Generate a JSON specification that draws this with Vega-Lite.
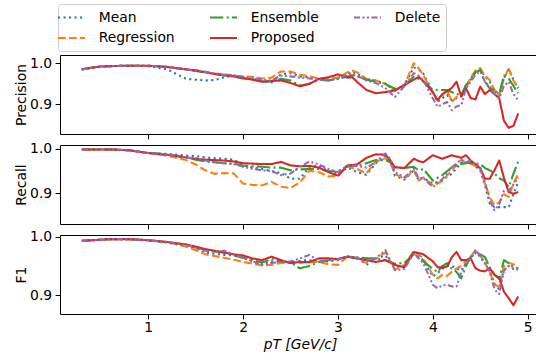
{
  "$schema": "https://vega.github.io/schema/vega-lite/v6.json",
  "padding": {"left": 13, "top": 3, "right": 0, "bottom": 0},
  "datasets": {
    "precision": [
      {"x":0.3,"Mean":0.985,"Regression":0.985,"Ensemble":0.985,"Proposed":0.985,"Delete":0.985},
      {"x":0.4,"Mean":0.989,"Regression":0.989,"Ensemble":0.989,"Proposed":0.989,"Delete":0.989},
      {"x":0.5,"Mean":0.992,"Regression":0.992,"Ensemble":0.992,"Proposed":0.992,"Delete":0.992},
      {"x":0.6,"Mean":0.993,"Regression":0.993,"Ensemble":0.993,"Proposed":0.993,"Delete":0.993},
      {"x":0.8,"Mean":0.994,"Regression":0.994,"Ensemble":0.994,"Proposed":0.994,"Delete":0.994},
      {"x":1.0,"Mean":0.993,"Regression":0.994,"Ensemble":0.994,"Proposed":0.994,"Delete":0.994},
      {"x":1.2,"Mean":0.985,"Regression":0.991,"Ensemble":0.991,"Proposed":0.991,"Delete":0.991},
      {"x":1.4,"Mean":0.962,"Regression":0.985,"Ensemble":0.985,"Proposed":0.985,"Delete":0.985},
      {"x":1.5,"Mean":0.960,"Regression":0.982,"Ensemble":0.981,"Proposed":0.983,"Delete":0.982},
      {"x":1.6,"Mean":0.958,"Regression":0.979,"Ensemble":0.978,"Proposed":0.978,"Delete":0.979},
      {"x":1.7,"Mean":0.959,"Regression":0.975,"Ensemble":0.974,"Proposed":0.974,"Delete":0.975},
      {"x":1.8,"Mean":0.966,"Regression":0.973,"Ensemble":0.970,"Proposed":0.971,"Delete":0.972},
      {"x":1.9,"Mean":0.970,"Regression":0.970,"Ensemble":0.968,"Proposed":0.968,"Delete":0.970},
      {"x":2.0,"Mean":0.964,"Regression":0.968,"Ensemble":0.963,"Proposed":0.964,"Delete":0.967},
      {"x":2.1,"Mean":0.962,"Regression":0.967,"Ensemble":0.962,"Proposed":0.960,"Delete":0.964},
      {"x":2.2,"Mean":0.958,"Regression":0.963,"Ensemble":0.956,"Proposed":0.955,"Delete":0.960},
      {"x":2.3,"Mean":0.953,"Regression":0.965,"Ensemble":0.955,"Proposed":0.957,"Delete":0.958},
      {"x":2.4,"Mean":0.973,"Regression":0.980,"Ensemble":0.962,"Proposed":0.958,"Delete":0.970},
      {"x":2.5,"Mean":0.976,"Regression":0.980,"Ensemble":0.958,"Proposed":0.952,"Delete":0.968},
      {"x":2.6,"Mean":0.968,"Regression":0.972,"Ensemble":0.946,"Proposed":0.944,"Delete":0.965},
      {"x":2.7,"Mean":0.966,"Regression":0.968,"Ensemble":0.950,"Proposed":0.950,"Delete":0.963},
      {"x":2.8,"Mean":0.962,"Regression":0.963,"Ensemble":0.960,"Proposed":0.962,"Delete":0.960},
      {"x":2.9,"Mean":0.960,"Regression":0.962,"Ensemble":0.958,"Proposed":0.966,"Delete":0.958},
      {"x":3.0,"Mean":0.964,"Regression":0.965,"Ensemble":0.962,"Proposed":0.973,"Delete":0.962},
      {"x":3.1,"Mean":0.976,"Regression":0.978,"Ensemble":0.968,"Proposed":0.965,"Delete":0.972},
      {"x":3.15,"Mean":0.979,"Regression":0.982,"Ensemble":0.971,"Proposed":0.966,"Delete":0.975},
      {"x":3.2,"Mean":0.975,"Regression":0.978,"Ensemble":0.968,"Proposed":0.955,"Delete":0.970},
      {"x":3.3,"Mean":0.962,"Regression":0.962,"Ensemble":0.960,"Proposed":0.935,"Delete":0.958},
      {"x":3.4,"Mean":0.958,"Regression":0.958,"Ensemble":0.955,"Proposed":0.927,"Delete":0.952},
      {"x":3.5,"Mean":0.950,"Regression":0.950,"Ensemble":0.950,"Proposed":0.930,"Delete":0.940},
      {"x":3.6,"Mean":0.933,"Regression":0.933,"Ensemble":0.938,"Proposed":0.934,"Delete":0.918},
      {"x":3.7,"Mean":0.948,"Regression":0.947,"Ensemble":0.946,"Proposed":0.947,"Delete":0.944},
      {"x":3.8,"Mean":0.990,"Regression":1.000,"Ensemble":0.967,"Proposed":0.960,"Delete":0.976},
      {"x":3.85,"Mean":0.985,"Regression":0.988,"Ensemble":0.962,"Proposed":0.967,"Delete":0.970},
      {"x":3.9,"Mean":0.975,"Regression":0.971,"Ensemble":0.955,"Proposed":0.957,"Delete":0.959},
      {"x":4.0,"Mean":0.930,"Regression":0.928,"Ensemble":0.935,"Proposed":0.930,"Delete":0.915},
      {"x":4.05,"Mean":0.906,"Regression":0.910,"Ensemble":0.935,"Proposed":0.910,"Delete":0.894},
      {"x":4.1,"Mean":0.915,"Regression":0.922,"Ensemble":0.935,"Proposed":0.925,"Delete":0.900},
      {"x":4.15,"Mean":0.923,"Regression":0.935,"Ensemble":0.935,"Proposed":0.932,"Delete":0.906},
      {"x":4.2,"Mean":0.910,"Regression":0.906,"Ensemble":0.930,"Proposed":0.940,"Delete":0.886},
      {"x":4.25,"Mean":0.915,"Regression":0.918,"Ensemble":0.925,"Proposed":0.955,"Delete":0.895},
      {"x":4.3,"Mean":0.919,"Regression":0.923,"Ensemble":0.923,"Proposed":0.919,"Delete":0.898},
      {"x":4.35,"Mean":0.947,"Regression":0.939,"Ensemble":0.947,"Proposed":0.939,"Delete":0.939},
      {"x":4.4,"Mean":0.962,"Regression":0.965,"Ensemble":0.960,"Proposed":0.915,"Delete":0.955},
      {"x":4.45,"Mean":0.978,"Regression":0.983,"Ensemble":0.978,"Proposed":0.912,"Delete":0.972},
      {"x":4.5,"Mean":0.984,"Regression":0.988,"Ensemble":0.984,"Proposed":0.943,"Delete":0.980},
      {"x":4.55,"Mean":0.968,"Regression":0.970,"Ensemble":0.955,"Proposed":0.925,"Delete":0.955},
      {"x":4.6,"Mean":0.955,"Regression":0.959,"Ensemble":0.939,"Proposed":0.935,"Delete":0.943},
      {"x":4.65,"Mean":0.935,"Regression":0.935,"Ensemble":0.935,"Proposed":0.925,"Delete":0.925},
      {"x":4.7,"Mean":0.920,"Regression":0.919,"Ensemble":0.925,"Proposed":0.915,"Delete":0.915},
      {"x":4.75,"Mean":0.965,"Regression":0.963,"Ensemble":0.970,"Proposed":0.860,"Delete":0.945},
      {"x":4.8,"Mean":0.985,"Regression":0.988,"Ensemble":0.963,"Proposed":0.843,"Delete":0.955},
      {"x":4.85,"Mean":0.960,"Regression":0.958,"Ensemble":0.945,"Proposed":0.848,"Delete":0.925},
      {"x":4.9,"Mean":0.939,"Regression":0.939,"Ensemble":0.927,"Proposed":0.878,"Delete":0.910}
    ],
    "recall": [
      {"x":0.3,"Mean":0.999,"Regression":0.999,"Ensemble":0.999,"Proposed":0.999,"Delete":0.999},
      {"x":0.4,"Mean":0.999,"Regression":0.999,"Ensemble":0.999,"Proposed":0.999,"Delete":0.999},
      {"x":0.5,"Mean":0.999,"Regression":0.999,"Ensemble":0.999,"Proposed":0.999,"Delete":0.999},
      {"x":0.6,"Mean":0.999,"Regression":0.999,"Ensemble":0.999,"Proposed":0.999,"Delete":0.999},
      {"x":0.8,"Mean":0.997,"Regression":0.997,"Ensemble":0.997,"Proposed":0.997,"Delete":0.997},
      {"x":1.0,"Mean":0.991,"Regression":0.991,"Ensemble":0.991,"Proposed":0.991,"Delete":0.991},
      {"x":1.2,"Mean":0.989,"Regression":0.985,"Ensemble":0.988,"Proposed":0.987,"Delete":0.988},
      {"x":1.4,"Mean":0.985,"Regression":0.975,"Ensemble":0.981,"Proposed":0.981,"Delete":0.980},
      {"x":1.5,"Mean":0.984,"Regression":0.965,"Ensemble":0.976,"Proposed":0.978,"Delete":0.979},
      {"x":1.6,"Mean":0.981,"Regression":0.952,"Ensemble":0.972,"Proposed":0.976,"Delete":0.974},
      {"x":1.7,"Mean":0.979,"Regression":0.944,"Ensemble":0.970,"Proposed":0.975,"Delete":0.970},
      {"x":1.8,"Mean":0.978,"Regression":0.946,"Ensemble":0.968,"Proposed":0.974,"Delete":0.968},
      {"x":1.9,"Mean":0.976,"Regression":0.945,"Ensemble":0.967,"Proposed":0.972,"Delete":0.966},
      {"x":2.0,"Mean":0.963,"Regression":0.922,"Ensemble":0.963,"Proposed":0.968,"Delete":0.960},
      {"x":2.1,"Mean":0.958,"Regression":0.919,"Ensemble":0.961,"Proposed":0.967,"Delete":0.955},
      {"x":2.2,"Mean":0.955,"Regression":0.918,"Ensemble":0.960,"Proposed":0.966,"Delete":0.952},
      {"x":2.3,"Mean":0.950,"Regression":0.926,"Ensemble":0.958,"Proposed":0.966,"Delete":0.950},
      {"x":2.4,"Mean":0.946,"Regression":0.915,"Ensemble":0.958,"Proposed":0.971,"Delete":0.941},
      {"x":2.5,"Mean":0.933,"Regression":0.912,"Ensemble":0.952,"Proposed":0.963,"Delete":0.945},
      {"x":2.6,"Mean":0.933,"Regression":0.925,"Ensemble":0.954,"Proposed":0.961,"Delete":0.960},
      {"x":2.7,"Mean":0.960,"Regression":0.951,"Ensemble":0.955,"Proposed":0.962,"Delete":0.972},
      {"x":2.8,"Mean":0.962,"Regression":0.948,"Ensemble":0.955,"Proposed":0.958,"Delete":0.965},
      {"x":2.9,"Mean":0.950,"Regression":0.938,"Ensemble":0.950,"Proposed":0.948,"Delete":0.955},
      {"x":3.0,"Mean":0.945,"Regression":0.940,"Ensemble":0.950,"Proposed":0.940,"Delete":0.948},
      {"x":3.1,"Mean":0.958,"Regression":0.960,"Ensemble":0.962,"Proposed":0.963,"Delete":0.962},
      {"x":3.2,"Mean":0.948,"Regression":0.955,"Ensemble":0.962,"Proposed":0.965,"Delete":0.962},
      {"x":3.3,"Mean":0.942,"Regression":0.945,"Ensemble":0.968,"Proposed":0.980,"Delete":0.958},
      {"x":3.4,"Mean":0.968,"Regression":0.972,"Ensemble":0.975,"Proposed":0.988,"Delete":0.970},
      {"x":3.5,"Mean":0.984,"Regression":0.979,"Ensemble":0.975,"Proposed":0.987,"Delete":0.990},
      {"x":3.55,"Mean":0.975,"Regression":0.970,"Ensemble":0.970,"Proposed":0.975,"Delete":0.978},
      {"x":3.6,"Mean":0.940,"Regression":0.944,"Ensemble":0.959,"Proposed":0.959,"Delete":0.948},
      {"x":3.7,"Mean":0.931,"Regression":0.933,"Ensemble":0.957,"Proposed":0.957,"Delete":0.936},
      {"x":3.8,"Mean":0.952,"Regression":0.952,"Ensemble":0.960,"Proposed":0.978,"Delete":0.956},
      {"x":3.85,"Mean":0.930,"Regression":0.929,"Ensemble":0.952,"Proposed":0.973,"Delete":0.934},
      {"x":3.9,"Mean":0.935,"Regression":0.936,"Ensemble":0.955,"Proposed":0.970,"Delete":0.935},
      {"x":4.0,"Mean":0.922,"Regression":0.918,"Ensemble":0.929,"Proposed":0.986,"Delete":0.914},
      {"x":4.1,"Mean":0.930,"Regression":0.928,"Ensemble":0.941,"Proposed":0.978,"Delete":0.932},
      {"x":4.2,"Mean":0.944,"Regression":0.952,"Ensemble":0.959,"Proposed":0.986,"Delete":0.959},
      {"x":4.3,"Mean":0.969,"Regression":0.976,"Ensemble":0.966,"Proposed":0.980,"Delete":0.976},
      {"x":4.35,"Mean":0.969,"Regression":0.969,"Ensemble":0.968,"Proposed":0.986,"Delete":0.970},
      {"x":4.4,"Mean":0.969,"Regression":0.967,"Ensemble":0.969,"Proposed":0.974,"Delete":0.974},
      {"x":4.5,"Mean":0.952,"Regression":0.956,"Ensemble":0.966,"Proposed":0.957,"Delete":0.959},
      {"x":4.55,"Mean":0.918,"Regression":0.922,"Ensemble":0.957,"Proposed":0.933,"Delete":0.925},
      {"x":4.6,"Mean":0.877,"Regression":0.892,"Ensemble":0.952,"Proposed":0.933,"Delete":0.884},
      {"x":4.65,"Mean":0.869,"Regression":0.873,"Ensemble":0.945,"Proposed":0.952,"Delete":0.862},
      {"x":4.7,"Mean":0.869,"Regression":0.880,"Ensemble":0.934,"Proposed":0.974,"Delete":0.875},
      {"x":4.75,"Mean":0.869,"Regression":0.898,"Ensemble":0.929,"Proposed":0.935,"Delete":0.906},
      {"x":4.8,"Mean":0.869,"Regression":0.892,"Ensemble":0.914,"Proposed":0.903,"Delete":0.906},
      {"x":4.85,"Mean":0.899,"Regression":0.922,"Ensemble":0.944,"Proposed":0.899,"Delete":0.920},
      {"x":4.9,"Mean":0.925,"Regression":0.944,"Ensemble":0.972,"Proposed":0.903,"Delete":0.936}
    ],
    "f1": [
      {"x":0.3,"Mean":0.993,"Regression":0.993,"Ensemble":0.993,"Proposed":0.993,"Delete":0.993},
      {"x":0.4,"Mean":0.994,"Regression":0.994,"Ensemble":0.994,"Proposed":0.994,"Delete":0.994},
      {"x":0.5,"Mean":0.995,"Regression":0.995,"Ensemble":0.995,"Proposed":0.995,"Delete":0.995},
      {"x":0.6,"Mean":0.996,"Regression":0.996,"Ensemble":0.996,"Proposed":0.996,"Delete":0.996},
      {"x":0.8,"Mean":0.996,"Regression":0.996,"Ensemble":0.996,"Proposed":0.996,"Delete":0.996},
      {"x":1.0,"Mean":0.994,"Regression":0.994,"Ensemble":0.994,"Proposed":0.994,"Delete":0.994},
      {"x":1.2,"Mean":0.990,"Regression":0.991,"Ensemble":0.991,"Proposed":0.991,"Delete":0.991},
      {"x":1.4,"Mean":0.984,"Regression":0.983,"Ensemble":0.986,"Proposed":0.987,"Delete":0.986},
      {"x":1.5,"Mean":0.979,"Regression":0.977,"Ensemble":0.982,"Proposed":0.983,"Delete":0.981},
      {"x":1.6,"Mean":0.973,"Regression":0.970,"Ensemble":0.978,"Proposed":0.979,"Delete":0.976},
      {"x":1.7,"Mean":0.971,"Regression":0.967,"Ensemble":0.975,"Proposed":0.976,"Delete":0.974},
      {"x":1.8,"Mean":0.969,"Regression":0.964,"Ensemble":0.973,"Proposed":0.973,"Delete":0.976},
      {"x":1.9,"Mean":0.968,"Regression":0.961,"Ensemble":0.968,"Proposed":0.970,"Delete":0.970},
      {"x":2.0,"Mean":0.964,"Regression":0.957,"Ensemble":0.964,"Proposed":0.968,"Delete":0.965},
      {"x":2.1,"Mean":0.958,"Regression":0.954,"Ensemble":0.960,"Proposed":0.963,"Delete":0.958},
      {"x":2.2,"Mean":0.953,"Regression":0.951,"Ensemble":0.956,"Proposed":0.960,"Delete":0.952},
      {"x":2.3,"Mean":0.958,"Regression":0.952,"Ensemble":0.962,"Proposed":0.966,"Delete":0.955},
      {"x":2.4,"Mean":0.957,"Regression":0.955,"Ensemble":0.958,"Proposed":0.960,"Delete":0.957},
      {"x":2.5,"Mean":0.956,"Regression":0.956,"Ensemble":0.956,"Proposed":0.955,"Delete":0.958},
      {"x":2.6,"Mean":0.959,"Regression":0.955,"Ensemble":0.946,"Proposed":0.957,"Delete":0.963},
      {"x":2.7,"Mean":0.960,"Regression":0.957,"Ensemble":0.950,"Proposed":0.957,"Delete":0.969},
      {"x":2.8,"Mean":0.957,"Regression":0.957,"Ensemble":0.957,"Proposed":0.963,"Delete":0.958},
      {"x":2.9,"Mean":0.958,"Regression":0.953,"Ensemble":0.960,"Proposed":0.963,"Delete":0.960},
      {"x":3.0,"Mean":0.960,"Regression":0.952,"Ensemble":0.962,"Proposed":0.962,"Delete":0.962},
      {"x":3.1,"Mean":0.966,"Regression":0.966,"Ensemble":0.966,"Proposed":0.966,"Delete":0.966},
      {"x":3.2,"Mean":0.965,"Regression":0.963,"Ensemble":0.965,"Proposed":0.963,"Delete":0.964},
      {"x":3.3,"Mean":0.952,"Regression":0.955,"Ensemble":0.963,"Proposed":0.960,"Delete":0.958},
      {"x":3.4,"Mean":0.963,"Regression":0.963,"Ensemble":0.963,"Proposed":0.957,"Delete":0.963},
      {"x":3.5,"Mean":0.968,"Regression":0.973,"Ensemble":0.960,"Proposed":0.960,"Delete":0.977},
      {"x":3.6,"Mean":0.948,"Regression":0.944,"Ensemble":0.954,"Proposed":0.952,"Delete":0.943},
      {"x":3.7,"Mean":0.950,"Regression":0.952,"Ensemble":0.955,"Proposed":0.948,"Delete":0.945},
      {"x":3.8,"Mean":0.972,"Regression":0.976,"Ensemble":0.970,"Proposed":0.974,"Delete":0.972},
      {"x":3.9,"Mean":0.960,"Regression":0.963,"Ensemble":0.958,"Proposed":0.970,"Delete":0.955},
      {"x":4.0,"Mean":0.932,"Regression":0.935,"Ensemble":0.945,"Proposed":0.958,"Delete":0.918},
      {"x":4.05,"Mean":0.938,"Regression":0.929,"Ensemble":0.940,"Proposed":0.948,"Delete":0.912},
      {"x":4.1,"Mean":0.945,"Regression":0.935,"Ensemble":0.950,"Proposed":0.947,"Delete":0.917},
      {"x":4.15,"Mean":0.950,"Regression":0.933,"Ensemble":0.955,"Proposed":0.949,"Delete":0.918},
      {"x":4.2,"Mean":0.950,"Regression":0.940,"Ensemble":0.945,"Proposed":0.965,"Delete":0.915},
      {"x":4.25,"Mean":0.946,"Regression":0.946,"Ensemble":0.940,"Proposed":0.974,"Delete":0.915},
      {"x":4.3,"Mean":0.942,"Regression":0.950,"Ensemble":0.929,"Proposed":0.960,"Delete":0.940},
      {"x":4.35,"Mean":0.955,"Regression":0.958,"Ensemble":0.950,"Proposed":0.960,"Delete":0.955},
      {"x":4.4,"Mean":0.963,"Regression":0.966,"Ensemble":0.966,"Proposed":0.963,"Delete":0.963},
      {"x":4.45,"Mean":0.975,"Regression":0.977,"Ensemble":0.972,"Proposed":0.946,"Delete":0.977},
      {"x":4.5,"Mean":0.965,"Regression":0.968,"Ensemble":0.970,"Proposed":0.942,"Delete":0.968},
      {"x":4.55,"Mean":0.955,"Regression":0.955,"Ensemble":0.965,"Proposed":0.941,"Delete":0.955},
      {"x":4.6,"Mean":0.942,"Regression":0.940,"Ensemble":0.948,"Proposed":0.946,"Delete":0.940},
      {"x":4.65,"Mean":0.920,"Regression":0.918,"Ensemble":0.935,"Proposed":0.935,"Delete":0.910},
      {"x":4.7,"Mean":0.910,"Regression":0.915,"Ensemble":0.928,"Proposed":0.930,"Delete":0.902},
      {"x":4.75,"Mean":0.945,"Regression":0.950,"Ensemble":0.960,"Proposed":0.906,"Delete":0.942},
      {"x":4.8,"Mean":0.950,"Regression":0.955,"Ensemble":0.955,"Proposed":0.895,"Delete":0.950},
      {"x":4.85,"Mean":0.945,"Regression":0.953,"Ensemble":0.948,"Proposed":0.883,"Delete":0.945},
      {"x":4.9,"Mean":0.947,"Regression":0.952,"Ensemble":0.946,"Proposed":0.898,"Delete":0.944}
    ]
  },
  "spacing": 11,
  "bounds": "flush",
  "vconcat": [
    {
      "width": 480, "height": 79,
      "data": {"name": "precision"},
      "transform": [{"fold": ["Mean","Regression","Ensemble","Proposed","Delete"], "as": ["method","value"]}],
      "mark": {"type": "line", "strokeWidth": 2.08, "strokeCap": "butt", "strokeJoin": "round"},
      "encoding": {
        "x": {"field": "x", "type": "quantitative", "scale": {"domain": [0.07, 5.13], "nice": false, "zero": false}, "axis": {"values": [1,2,3,4,5], "labels": false, "title": null}},
        "y": {"field": "value", "type": "quantitative", "scale": {"domain": [0.828, 1.02], "nice": false, "zero": false}, "axis": {"values": [0.9, 1.0], "format": ".1f", "title": "Precision"}},
        "color": {"field": "method", "type": "nominal", "scale": {"domain": ["Mean","Ensemble","Delete","Regression","Proposed"], "range": ["#1f77b4","#2ca02c","#9467bd","#ff7f0e","#d62728"]}, "legend": {"title": null}},
        "strokeDash": {"field": "method", "type": "nominal", "scale": {"domain": ["Mean","Ensemble","Delete","Regression","Proposed"], "range": [[2.08,3.43],[13.3,3.33,2.08,3.33],[6,2.5,2,2.5,2,2.5],[7.7,3.33],[1,0]]}, "legend": {"title": null}}
      }
    },
    {
      "width": 480, "height": 79,
      "data": {"name": "recall"},
      "transform": [{"fold": ["Mean","Regression","Ensemble","Proposed","Delete"], "as": ["method","value"]}],
      "mark": {"type": "line", "strokeWidth": 2.08, "strokeCap": "butt", "strokeJoin": "round"},
      "encoding": {
        "x": {"field": "x", "type": "quantitative", "scale": {"domain": [0.07, 5.13], "nice": false, "zero": false}, "axis": {"values": [1,2,3,4,5], "labels": false, "title": null}},
        "y": {"field": "value", "type": "quantitative", "scale": {"domain": [0.831, 1.009], "nice": false, "zero": false}, "axis": {"values": [0.9, 1.0], "format": ".1f", "title": "Recall"}},
        "color": {"field": "method", "type": "nominal", "scale": {"domain": ["Mean","Ensemble","Delete","Regression","Proposed"], "range": ["#1f77b4","#2ca02c","#9467bd","#ff7f0e","#d62728"]}, "legend": {"title": null}},
        "strokeDash": {"field": "method", "type": "nominal", "scale": {"domain": ["Mean","Ensemble","Delete","Regression","Proposed"], "range": [[2.08,3.43],[13.3,3.33,2.08,3.33],[6,2.5,2,2.5,2,2.5],[7.7,3.33],[1,0]]}, "legend": {"title": null}}
      }
    },
    {
      "width": 480, "height": 79,
      "data": {"name": "f1"},
      "transform": [{"fold": ["Mean","Regression","Ensemble","Proposed","Delete"], "as": ["method","value"]}],
      "mark": {"type": "line", "strokeWidth": 2.08, "strokeCap": "butt", "strokeJoin": "round"},
      "encoding": {
        "x": {"field": "x", "type": "quantitative", "scale": {"domain": [0.07, 5.13], "nice": false, "zero": false}, "axis": {"values": [1,2,3,4,5], "format": "d", "title": "pT [GeV/c]", "titleFontStyle": "italic"}},
        "y": {"field": "value", "type": "quantitative", "scale": {"domain": [0.868, 1.003], "nice": false, "zero": false}, "axis": {"values": [0.9, 1.0], "format": ".1f", "title": "F1"}},
        "color": {"field": "method", "type": "nominal", "scale": {"domain": ["Mean","Ensemble","Delete","Regression","Proposed"], "range": ["#1f77b4","#2ca02c","#9467bd","#ff7f0e","#d62728"]}, "legend": {"title": null}},
        "strokeDash": {"field": "method", "type": "nominal", "scale": {"domain": ["Mean","Ensemble","Delete","Regression","Proposed"], "range": [[2.08,3.43],[13.3,3.33,2.08,3.33],[6,2.5,2,2.5,2,2.5],[7.7,3.33],[1,0]]}, "legend": {"title": null}}
      }
    }
  ],
  "config": {
    "font": "DejaVu Sans",
    "view": {"stroke": "#000000", "strokeWidth": 1},
    "axis": {
      "grid": false, "domain": false,
      "tickColor": "#000000", "tickSize": 4.9, "tickWidth": 1,
      "labelFont": "DejaVu Sans", "labelFontSize": 13.9, "labelColor": "#000000", "labelPadding": 3.4,
      "titleFont": "DejaVu Sans", "titleFontSize": 13.9, "titleFontWeight": "normal", "titleColor": "#000000"
    },
    "axisY": {"minExtent": 30, "maxExtent": 30, "titlePadding": 2},
    "axisX": {"titlePadding": 3, "labelPadding": 2},
    "legend": {
      "orient": "none", "legendX": -2, "legendY": -51,
      "direction": "horizontal", "columns": 3, "columnPadding": 30, "rowPadding": 5.5,
      "padding": 5.5, "strokeColor": "#cccccc", "fillColor": "#ffffff", "cornerRadius": 3,
      "labelFont": "DejaVu Sans", "labelFontSize": 13.9, "labelColor": "#000000", "labelOffset": 19.2,
      "symbolType": "M-2,0H2", "symbolSize": 182, "symbolStrokeWidth": 2.08
    }
  }
}
